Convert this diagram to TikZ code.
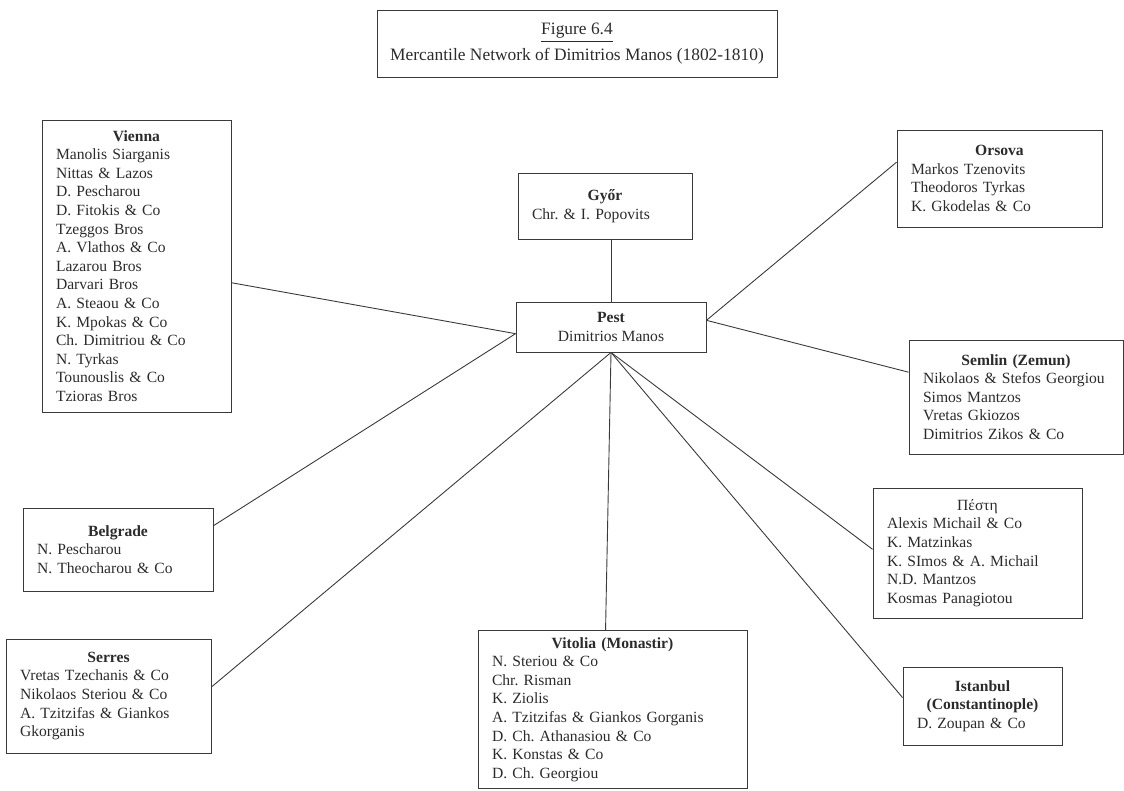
\documentclass[tikz,border=0pt]{standalone}
\usepackage{fontspec}
\setmainfont{Liberation Serif}
\usetikzlibrary{positioning,calc}
\definecolor{ink}{HTML}{2B2B2B}
\definecolor{rule}{HTML}{3A3A3A}
\newcommand{\hdr}[1]{\makebox[\hsize]{\textbf{#1}}}
\frenchspacing

\begin{document}
\begin{tikzpicture}[x=0.5pt, y=-0.5pt, font=\fontsize{7.8}{9.3}\selectfont, text=ink,
  place/.style={draw=rule, line width=0.45pt, align=left, inner xsep=7pt, inner ysep=3pt},
  hub/.style={draw=rule, line width=0.45pt, align=center, inner sep=3pt},
  link/.style={draw=rule, line width=0.45pt}]
\useasboundingbox (0,0) rectangle (1124,791);
\hyphenpenalty=10000

% ---------------- title
\node[hub, minimum width=200pt, minimum height=33.5pt, font=\fontsize{8.7}{13}\selectfont] (title) at (577,43.5)
  {\underline{Figure 6.4}\\ Mercantile Network of Dimitrios Manos (1802-1810)};

% ---------------- centre: Pest and Győr
\node[hub, minimum width=95pt, minimum height=25pt] (pest) at (611,327)
  {\textbf{Pest}\\ Dimitrios Manos};
\node[place, text width=73pt, minimum height=33pt] (gyor) at (605,206)
  {\hdr{Győr}\\ Chr. \& I. Popovits};

% ---------------- left column
\node[place, text width=80.5pt, minimum height=146pt] (vienna) at (136.5,266)
  {\hdr{Vienna}\\ Manolis Siarganis\\ Nittas \& Lazos\\ D. Pescharou\\ D. Fitokis \& Co\\
   Tzeggos Bros\\ A. Vlathos \& Co\\ Lazarou Bros\\ Darvari Bros\\ A. Steaou \& Co\\
   K. Mpokas \& Co\\ Ch. Dimitriou \& Co\\ N. Tyrkas\\ Tounouslis \& Co\\ Tzioras Bros};
\node[place, text width=81pt, minimum height=41.5pt] (belgrade) at (118,549.5)
  {\hdr{Belgrade}\\ N. Pescharou\\ N. Theocharou \& Co};
\node[place, text width=88.5pt, minimum height=57pt] (serres) at (108.5,696)
  {\hdr{Serres}\\ Vretas Tzechanis \& Co\\ Nikolaos Steriou \& Co\\ A. Tzitzifas \& Giankos\\ Gkorganis};

% ---------------- bottom
\node[place, text width=120.5pt, minimum height=79pt] (vitolia) at (612.5,709.5)
  {\hdr{Vitolia (Monastir)}\\ N. Steriou \& Co\\ Chr. Risman\\ K. Ziolis\\
   A. Tzitzifas \& Giankos Gorganis\\ D. Ch. Athanasiou \& Co\\ K. Konstas \& Co\\ D. Ch. Georgiou};

% ---------------- right column
\node[place, text width=88.5pt, minimum height=48.5pt] (orsova) at (999.5,178.5)
  {\hdr{Orsova}\\ Markos Tzenovits\\ Theodoros Tyrkas\\ K. Gkodelas \& Co};
\node[place, text width=93pt, minimum height=57pt] (semlin) at (1016,397)
  {\hdr{Semlin (Zemun)}\\ Nikolaos \& Stefos Georgiou\\ Simos Mantzos\\ Vretas Gkiozos\\ Dimitrios Zikos \& Co};
\node[place, text width=90.5pt, minimum height=65pt] (pesti) at (977.5,553)
  {\makebox[\hsize]{Πέστη}\\ Alexis Michail \& Co\\ K. Matzinkas\\ K. SImos \& A. Michail\\ N.D. Mantzos\\ Kosmas Panagiotou};
\node[place, text width=65.5pt, minimum height=39pt] (istanbul) at (982.5,706)
  {\hdr{Istanbul}\\ \hdr{(Constantinople)}\\ D. Zoupan \& Co};

% ---------------- links
\draw[link] (pest.north |- gyor.south) -- (pest.north);
\draw[link] (pest.184) -- (vienna.-10);
\draw[link] (pest.184) -- (belgrade.14);
\draw[link] (pest.south) -- (serres.5);
\draw[link] (pest.south) -- (vitolia.95);
\draw[link] (pest.4) -- (orsova.171);
\draw[link] (pest.4) -- (semlin.167);
\draw[link] (pest.south) -- (pesti.178);
\draw[link] (pest.south) -- (istanbul.174);
\end{tikzpicture}
\end{document}
